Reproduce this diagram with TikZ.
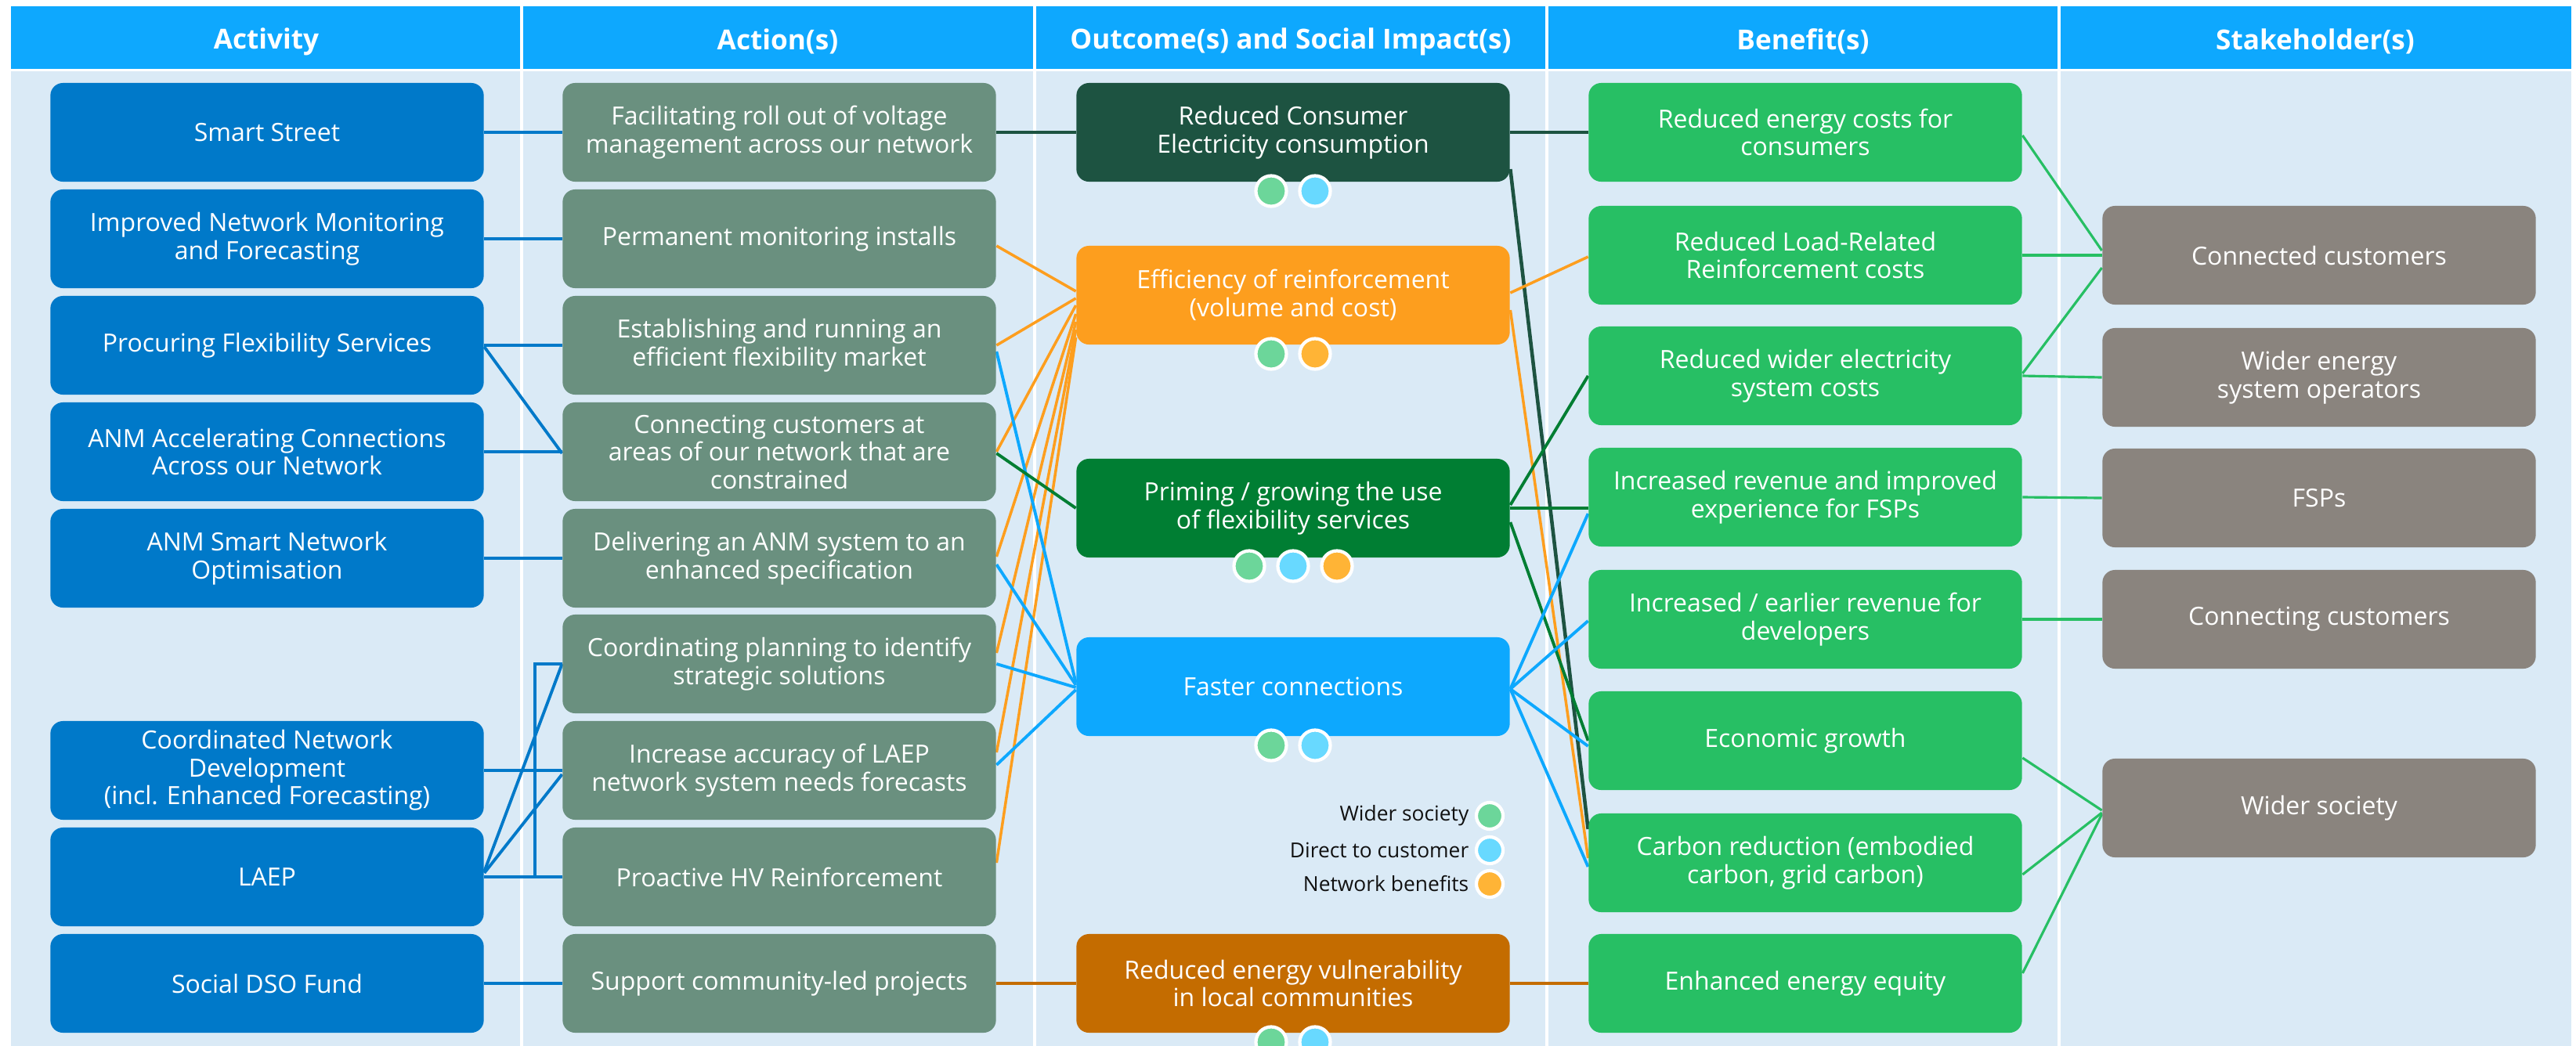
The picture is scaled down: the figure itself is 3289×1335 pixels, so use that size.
\documentclass[tikz,border=0pt]{standalone}
\usepackage{fontspec}
\setmainfont{Open Sans}
\usetikzlibrary{calc}
\definecolor{hdrc}{HTML}{0EA8FE}
\definecolor{bodyc}{HTML}{DAEAF6}
\definecolor{actc}{HTML}{0079C9}
\definecolor{actionc}{HTML}{6A907F}
\definecolor{darkc}{HTML}{1D5341}
\definecolor{orangec}{HTML}{FD9E1E}
\definecolor{primc}{HTML}{007E33}
\definecolor{fastc}{HTML}{0DA8FE}
\definecolor{vulnc}{HTML}{C46C00}
\definecolor{benc}{HTML}{27BF64}
\definecolor{stakec}{HTML}{8A847E}
\definecolor{dotg}{HTML}{6CD69A}
\definecolor{dotb}{HTML}{68D9FF}
\definecolor{doto}{HTML}{FFB436}
\definecolor{legtext}{HTML}{111111}
\pgfdeclarelayer{back}
\pgfdeclarelayer{edges}
\pgfsetlayers{back,edges,main}
\newcommand{\boxfont}{\fontsize{9.1}{10.1}\selectfont}
\newcommand{\hdrfont}{\fontsize{10}{12}\selectfont\bfseries}
\newcommand{\legfont}{\fontsize{7.5}{9}\selectfont}
\tikzset{
  box/.style={rounded corners=0.16cm, minimum width=5.53cm, minimum height=1.26cm,
    text=white, align=center, inner sep=0pt, font=\boxfont},
  hdrtext/.style={text=white, font=\hdrfont, inner sep=0pt},
  actl/.style={draw=actc, line width=1.1pt},
  orl/.style={draw=orangec, line width=1.0pt},
  bll/.style={draw=fastc, line width=1.1pt},
  dkl/.style={draw=darkc, line width=1.3pt},
  prl/.style={draw=primc, line width=1.1pt},
  brl/.style={draw=vulnc, line width=1.1pt},
  gnl/.style={draw=benc, line width=0.9pt},
  bigdot/.style={circle, draw=white, line width=1.2pt, minimum size=0.39cm, inner sep=0pt},
  legdot/.style={circle, draw=white, line width=1.2pt, minimum size=0.34cm, inner sep=0pt},
  legtxt/.style={text=legtext, font=\legfont, anchor=east, inner sep=0pt}
}
\begin{document}
\begin{tikzpicture}[x=0.01cm,y=-0.01cm]
\clip (0,0) rectangle (3289,1335);
\begin{pgfonlayer}{back}
  \fill[white] (0,0) rectangle (3289,1335);
  \fill[bodyc] (14,8) rectangle (3283,1340);
  \fill[hdrc] (14,8) rectangle (3283,88);
  \draw[white, line width=1.1pt] (14,89.5) -- (3283,89.5);
  \foreach \xs in {666,1321,1975,2629} {
    \draw[white, line width=1.1pt] (\xs,8) -- (\xs,1340);
  }
\end{pgfonlayer}
% headers
\node[hdrtext] (h1) at (340,53) {Activity};
\node[hdrtext] (h2) at (993,53) {Action(s)};
\node[hdrtext] (h3) at (1648,53) {Outcome(s) and Social Impact(s)};
\node[hdrtext] (h4) at (2302,53) {Benefit(s)};
\node[hdrtext] (h5) at (2956,53) {Stakeholder(s)};
% activity
\node[box, fill=actc] (a0) at (341,169) {Smart Street};
\node[box, fill=actc] (a1) at (341,305) {Improved Network Monitoring\\and Forecasting};
\node[box, fill=actc] (a2) at (341,441) {Procuring Flexibility Services};
\node[box, fill=actc] (a3) at (341,577) {ANM Accelerating Connections\\Across our Network};
\node[box, fill=actc] (a4) at (341,713) {ANM Smart Network\\Optimisation};
\node[box, fill=actc] (a6) at (341,984) {Coordinated Network\\Development\\(incl. Enhanced Forecasting)};
\node[box, fill=actc] (a7) at (341,1120) {LAEP};
\node[box, fill=actc] (a8) at (341,1256) {Social DSO Fund};
% actions
\node[box, fill=actionc] (b0) at (995,169) {Facilitating roll out of voltage\\management across our network};
\node[box, fill=actionc] (b1) at (995,305) {Permanent monitoring installs};
\node[box, fill=actionc] (b2) at (995,441) {Establishing and running an\\efficient flexibility market};
\node[box, fill=actionc] (b3) at (995,577) {Connecting customers at\\areas of our network that are\\constrained};
\node[box, fill=actionc] (b4) at (995,713) {Delivering an ANM system to an\\enhanced specification};
\node[box, fill=actionc] (b5) at (995,848) {Coordinating planning to identify\\strategic solutions};
\node[box, fill=actionc] (b6) at (995,984) {Increase accuracy of LAEP\\network system needs forecasts};
\node[box, fill=actionc] (b7) at (995,1120) {Proactive HV Reinforcement};
\node[box, fill=actionc] (b8) at (995,1256) {Support community-led projects};
% outcomes
\node[box, fill=darkc] (c0) at (1651,169) {Reduced Consumer\\Electricity consumption};
\node[box, fill=orangec] (c1) at (1651,377) {Efficiency of reinforcement\\(volume and cost)};
\node[box, fill=primc] (c2) at (1651,649) {Priming / growing the use\\of flexibility services};
\node[box, fill=fastc] (c3) at (1651,877) {Faster connections};
\node[box, fill=vulnc] (c4) at (1651,1256) {Reduced energy vulnerability\\in local communities};
% benefits
\node[box, fill=benc] (d0) at (2305,169) {Reduced energy costs for\\consumers};
\node[box, fill=benc] (d1) at (2305,326) {Reduced Load-Related\\Reinforcement costs};
\node[box, fill=benc] (d2) at (2305,480) {Reduced wider electricity\\system costs};
\node[box, fill=benc] (d3) at (2305,635) {Increased revenue and improved\\experience for FSPs};
\node[box, fill=benc] (d4) at (2305,791) {Increased / earlier revenue for\\developers};
\node[box, fill=benc] (d5) at (2305,946) {Economic growth};
\node[box, fill=benc] (d6) at (2305,1102) {Carbon reduction (embodied\\carbon, grid carbon)};
\node[box, fill=benc] (d7) at (2305,1256) {Enhanced energy equity};
% stakeholders
\node[box, fill=stakec] (e0) at (2961,326) {Connected customers};
\node[box, fill=stakec] (e1) at (2961,482) {Wider energy\\system operators};
\node[box, fill=stakec] (e2) at (2961,636) {FSPs};
\node[box, fill=stakec] (e3) at (2961,791) {Connecting customers};
\node[box, fill=stakec] (e4) at (2961,1032) {Wider society};
% elbow coordinate
\coordinate (elb) at (683,848);
\begin{pgfonlayer}{edges}
  % activity -> action
  \draw[actl] (a0.east) -- (b0.west);
  \draw[actl] (a1.east) -- (b1.west);
  \draw[actl] (a2.east) -- (b2.west);
  \draw[actl] ($(a2.east)+(0,2)$) -- ($(b3.west)+(0,2)$);
  \draw[actl] (a3.east) -- (b3.west);
  \draw[actl] (a4.east) -- (b4.west);
  \draw[actl] (a6.east) -- (b6.west);
  \draw[actl] (a7.east) -- (b7.west);
  \draw[actl] (a7.east) -| (elb) -- (b5.west);
  \draw[actl] ($(a7.east)+(0,-7)$) -- (b5.west);
  \draw[actl] ($(a7.east)+(0,-5)$) -- ($(b6.west)+(0,5)$);
  \draw[actl] (a8.east) -- (b8.west);
  % action -> outcome
  \draw[dkl] (b0.east) -- (c0.west);
  \draw[orl] ($(b1.east)+(0,9)$) -- ($(c1.west)+(0,-5)$);
  \draw[orl] (b2.east) -- ($(c1.west)+(0,4)$);
  \draw[orl] (b3.east) -- ($(c1.west)+(0,13)$);
  \draw[orl] ($(b4.east)+(0,-2)$) -- ($(c1.west)+(0,24)$);
  \draw[orl] ($(b5.east)+(0,-14)$) -- ($(c1.west)+(0,34)$);
  \draw[orl] ($(b6.east)+(0,-23)$) -- ($(c1.west)+(0,44)$);
  \draw[orl] ($(b7.east)+(0,-18)$) -- ($(c1.west)+(0,54)$);
  \draw[bll] ($(b2.east)+(0,8)$) -- ($(c3.west)+(0,-5)$);
  \draw[bll] ($(b4.east)+(0,8)$) -- ($(c3.west)+(0,-2)$);
  \draw[bll] (b5.east) -- ($(c3.west)+(0,1)$);
  \draw[bll] ($(b6.east)+(0,-7)$) -- ($(c3.west)+(0,4)$);
  \draw[prl] ($(b3.east)+(0,2)$) -- (c2.west);
  \draw[brl] (b8.east) -- (c4.west);
  % outcome -> benefit
  \draw[dkl] (c0.east) -- (d0.west);
  \draw[dkl] ($(c0.east)+(0,47)$) -- ($(d6.west)+(0,-43)$);
  \draw[orl] ($(c1.east)+(0,-3)$) -- ($(d1.west)+(0,2)$);
  \draw[orl] ($(c1.east)+(0,19)$) -- ($(d6.west)+(0,-6)$);
  \draw[prl] ($(c2.east)+(0,-4)$) -- (d2.west);
  \draw[prl] (c2.east) -- (c2.east -| d3.west);
  \draw[prl] ($(c2.east)+(0,18)$) -- (d5.west);
  \draw[bll] ($(c3.east)+(0,3)$) -- ($(d3.west)+(0,21)$);
  \draw[bll] ($(c3.east)+(0,3)$) -- ($(d4.west)+(0,2)$);
  \draw[bll] ($(c3.east)+(0,3)$) -- ($(d5.west)+(0,7)$);
  \draw[bll] ($(c3.east)+(0,3)$) -- ($(d6.west)+(0,5)$);
  \draw[brl] (c4.east) -- (d7.west);
  % benefit -> stakeholder
  \draw[gnl] ($(d0.east)+(0,4)$) -- ($(e0.west)+(0,-6)$);
  \draw[gnl] (d1.east) -- (e0.west);
  \draw[gnl] ($(d2.east)+(0,-3)$) -- ($(e0.west)+(0,16)$);
  \draw[gnl] (d2.east) -- (e1.west);
  \draw[gnl] (d3.east) -- (e2.west);
  \draw[gnl] (d4.east) -- (e3.west);
  \draw[gnl] ($(d5.east)+(0,22)$) -- ($(e4.west)+(0,3)$);
  \draw[gnl] ($(d6.east)+(0,15)$) -- ($(e4.west)+(0,6)$);
  \draw[gnl] ($(d7.east)+(0,-13)$) -- ($(e4.west)+(0,8)$);
\end{pgfonlayer}
% dots
\node[bigdot, fill=dotg] (c0g) at (1623,244) {};
\node[bigdot, fill=dotb] (c0b) at (1679,244) {};
\node[bigdot, fill=dotg] (c1g) at (1623,452) {};
\node[bigdot, fill=doto] (c1o) at (1679,452) {};
\node[bigdot, fill=dotg] (c2g) at (1595,723) {};
\node[bigdot, fill=dotb] (c2b) at (1651,723) {};
\node[bigdot, fill=doto] (c2o) at (1707,723) {};
\node[bigdot, fill=dotg] (c3g) at (1623,952) {};
\node[bigdot, fill=dotb] (c3b) at (1679,952) {};
\node[bigdot, fill=dotg] (c4g) at (1623,1331) {};
\node[bigdot, fill=dotb] (c4b) at (1679,1331) {};
% legend
\node[legdot, fill=dotg] (lg) at (1902,1042) {};
\node[legdot, fill=dotb] (lb) at (1902,1086) {};
\node[legdot, fill=doto] (lo) at (1902,1129) {};
\node[legtxt] (lgt) at (1876,1042) {Wider society};
\node[legtxt] (lbt) at (1876,1086) {Direct to customer};
\node[legtxt] (lot) at (1876,1129) {Network benefits};
\end{tikzpicture}
\end{document}
